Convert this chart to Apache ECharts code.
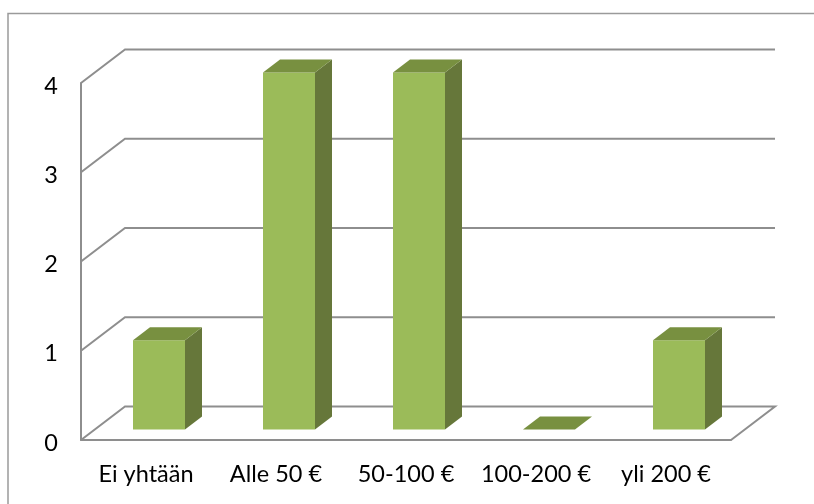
<!DOCTYPE html>
<html><head><meta charset="utf-8">
<style>html,body{margin:0;padding:0;background:#fff}#c{width:814px;height:504px}</style>
<script src="https://cdn.jsdelivr.net/npm/echarts@6/dist/echarts.min.js"></script>
</head><body><div id="c"></div>
<script>
const categories = ['Ei yhtään', 'Alle 50 €', '50-100 €', '100-200 €', 'yli 200 €'];
const values = [1, 4, 4, 0, 1];
const yTicks = [0, 1, 2, 3, 4];

const WALL_DX = 44, WALL_DY = -33.5;
const BAR_DX = 13, BAR_DY = -10.5, BAR_W = 52, DEPTH_X = 17, DEPTH_Y = -13;
const LINE = '#8e8e8e', FRONT = '#9bbb59', TOP = '#789040', SIDE = '#66773a';

const chart = echarts.init(document.getElementById('c'), null, {renderer: 'canvas'});
const lineStyle = {stroke: LINE, lineWidth: 2, fill: null};

function wall(params, api) {
  const v = api.value(0);
  const left = api.coord([0, v]);
  const x0 = params.coordSys.x, x1 = x0 + params.coordSys.width, y = left[1];
  const pts = [[x0, y], [x0 + WALL_DX, y + WALL_DY], [x1 + WALL_DX, y + WALL_DY]];
  if (v === 0) pts.push([x1, y]);
  return {type: 'polyline', shape: {points: pts}, style: lineStyle, silent: true};
}

function bar(params, api) {
  const c = api.coord([api.value(0), api.value(1)]);
  const base = api.coord([api.value(0), 0]);
  const l = c[0] + BAR_DX - BAR_W / 2, r = l + BAR_W;
  const t = c[1] + BAR_DY, b = base[1] + BAR_DY;
  const children = [];
  if (b - t > 0.5) {
    children.push({type: 'polygon', shape: {points: [[r, t], [r + DEPTH_X, t + DEPTH_Y], [r + DEPTH_X, b + DEPTH_Y], [r, b]]}, style: {fill: SIDE}});
    children.push({type: 'rect', shape: {x: l, y: t, width: BAR_W, height: b - t}, style: {fill: FRONT}});
  }
  children.push({type: 'polygon', shape: {points: [[l, t], [l + DEPTH_X, t + DEPTH_Y], [r + DEPTH_X, t + DEPTH_Y], [r, t]]}, style: {fill: TOP}});
  return {type: 'group', children};
}

chart.setOption({
  animation: false,
  backgroundColor: '#fff',
  graphic: [{
    type: 'polyline', silent: true, z: 0,
    shape: {points: [[8, 504], [8, 13.5], [814, 13.5]]},
    style: {stroke: '#9a9a9a', lineWidth: 1.5, fill: null}
  }],
  grid: {left: 81, right: 83, top: 83, bottom: 64},
  xAxis: {
    type: 'category', data: categories,
    axisLine: {show: true, lineStyle: {color: LINE, width: 2}},
    axisTick: {show: false},
    axisLabel: {margin: 22.5, fontFamily: 'Lato', fontSize: 23.5, color: '#000', interval: 0}
  },
  yAxis: {
    type: 'value', min: 0, max: 4, interval: 1,
    axisLine: {show: true, lineStyle: {color: LINE, width: 2}},
    axisTick: {show: false},
    splitLine: {show: false},
    axisLabel: {margin: 23, fontFamily: 'Lato', fontSize: 23.5, color: '#000', verticalAlign: 'top', lineHeight: 6}
  },
  series: [
    {type: 'custom', z: 1, clip: false, renderItem: wall, data: yTicks.map(v => [v]), encode: {y: 0}},
    {type: 'custom', z: 2, clip: false, renderItem: bar, data: categories.map((c, i) => [i, values[i]]), encode: {x: 0, y: 1}}
  ]
});
</script></body></html>
